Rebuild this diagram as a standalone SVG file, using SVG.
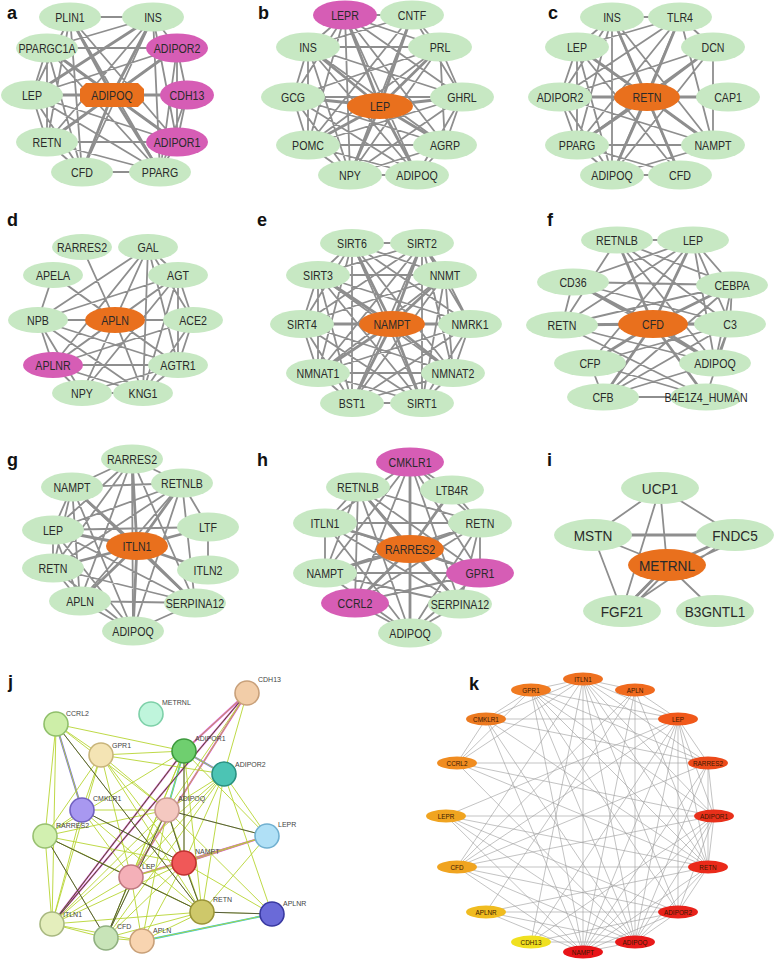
<svg xmlns="http://www.w3.org/2000/svg" width="777" height="960" viewBox="0 0 777 960">
<style>
.bg{fill:#fff}
.lt{font-family:"Liberation Sans",Arial,sans-serif;font-weight:bold;font-size:18px;fill:#111}
.ed{fill:none;stroke:#8e8e8e;stroke-width:1.8;stroke-linecap:round}
.eh{fill:none;stroke:#8e8e8e;stroke-width:2.8;stroke-linecap:round}
.nd ellipse{fill:#c7e8c3}
.nd.m ellipse{fill:#d65db5}
.nd.o ellipse,.nd.o polygon{fill:#e9701d}
.nd text{font-family:"Liberation Sans",Arial,sans-serif;font-size:12.5px;fill:#2a2a2a;text-anchor:middle;transform:scale(0.85,1)}
.big text{font-size:15.5px;transform:scale(0.88,1)}
.jg{fill:none;stroke:#b7d532;stroke-width:0.9}
.jd{fill:none;stroke:#3a3a3a;stroke-width:0.8}
.jm{fill:none;stroke:#e03ce0;stroke-width:1.8}
.jb{fill:none;stroke:#7b6ff0;stroke-width:2}
.jc{fill:none;stroke:#30c8e8;stroke-width:1.8}
.jn circle{stroke-width:1.6}
.jn text{font-family:"Liberation Sans",Arial,sans-serif;font-size:7px;fill:#444}
.kg{fill:none;stroke:#9a9a9a;stroke-width:0.6}
.kn text{font-family:"Liberation Sans",Arial,sans-serif;font-size:7.5px;fill:#3a1800;text-anchor:middle;transform:scale(0.85,1)}
</style>
<rect class="bg" width="777" height="960"/>

<g id="connectors">
<!-- a -->
<path class="ed" d="M70 17L153 17M70 17L32 95M70 17L47 142M70 17L82 172M70 17L160 172M70 17L177 142M153 17L47 48M153 17L177 48M153 17L47 142M153 17L82 172M153 17L160 172M153 17L177 142M47 48L177 48M47 48L32 95M47 48L47 142M47 48L82 172M47 48L160 172M47 48L177 142M177 48L177 142M177 48L160 172M177 48L32 95M177 48L47 142M177 48L187 95M32 95L47 142M32 95L82 172M32 95L160 172M32 95L177 142M187 95L177 142M187 95L160 172M47 142L177 142M47 142L82 172M47 142L160 172M177 142L160 172M82 172L160 172"/>
<path class="eh" d="M112 95L70 17M112 95L153 17M112 95L47 48M112 95L177 48M112 95L32 95M112 95L187 95M112 95L47 142M112 95L177 142M112 95L82 172M112 95L160 172M153 17L32 95"/>
<!-- b -->
<path class="ed" d="M345 15L412 15M345 15L308 47M345 15L440 47M345 15L293 97M345 15L462 97M345 15L308 145M345 15L445 145M345 15L350 175M345 15L417 175M412 15L308 47M412 15L440 47M412 15L308 145M412 15L350 175M412 15L462 97M308 47L440 47M308 47L293 97M308 47L462 97M308 47L308 145M308 47L445 145M308 47L350 175M308 47L417 175M440 47L293 97M440 47L462 97M440 47L308 145M440 47L350 175M440 47L445 145M293 97L462 97M293 97L308 145M293 97L350 175M293 97L445 145M293 97L417 175M462 97L308 145M462 97L445 145M462 97L350 175M462 97L417 175M308 145L445 145M308 145L350 175M308 145L417 175M445 145L350 175M445 145L417 175M350 175L417 175"/>
<path class="eh" d="M380 106L345 15M380 106L412 15M380 106L308 47M380 106L440 47M380 106L293 97M380 106L462 97M380 106L308 145M380 106L445 145M380 106L350 175M380 106L417 175"/>
<!-- c -->
<path class="ed" d="M612 17L680 17M612 17L577 47M612 17L560 97M612 17L577 145M612 17L612 175M612 17L713 145M612 17L680 175M680 17L577 47M680 17L577 145M680 17L612 175M680 17L713 145M680 17L713 47M680 17L560 97M577 47L560 97M577 47L577 145M577 47L612 175M577 47L713 145M577 47L680 175M560 97L577 145M560 97L612 175M560 97L713 145M560 97L713 47M577 145L612 175M577 145L713 145M577 145L680 175M612 175L680 175M612 175L713 145M713 47L713 145M713 47L612 175M713 47L577 145"/>
<path class="eh" d="M647 97L612 17M647 97L680 17M647 97L577 47M647 97L713 47M647 97L560 97M647 97L728 97M647 97L577 145M647 97L713 145M647 97L612 175M647 97L680 175"/>
<!-- d -->
<path class="ed" d="M115 320L82 247M115 320L148 247M115 320L53 275M115 320L178 275M115 320L38 320M115 320L193 320M115 320L53 365M115 320L178 365M115 320L82 393M115 320L143 393M148 247L38 320M148 247L53 365M148 247L82 393M148 247L178 275M148 247L193 320M148 247L178 365M148 247L143 393M53 275L38 320M53 275L178 365M178 275L38 320M178 275L53 365M178 275L82 393M178 275L178 365M178 275L143 393M178 275L193 320M38 320L53 365M38 320L178 365M38 320L82 393M38 320L143 393M193 320L53 365M193 320L178 365M193 320L143 393M53 365L178 365M53 365L82 393M53 365L143 393M178 365L82 393M178 365L143 393M82 393L143 393"/>
<!-- e -->
<path class="ed" d="M352 243L422 243M352 243L318 275M352 243L445 275M352 243L302 324M352 243L470 324M352 243L318 373M352 243L453 373M352 243L352 403M352 243L422 403M422 243L318 275M422 243L445 275M422 243L302 324M422 243L470 324M422 243L318 373M422 243L453 373M422 243L352 403M422 243L422 403M318 275L445 275M318 275L302 324M318 275L470 324M318 275L318 373M318 275L453 373M318 275L352 403M318 275L422 403M445 275L302 324M445 275L470 324M445 275L318 373M445 275L453 373M445 275L352 403M445 275L422 403M302 324L470 324M302 324L318 373M302 324L453 373M302 324L352 403M302 324L422 403M470 324L318 373M470 324L453 373M470 324L352 403M470 324L422 403M318 373L453 373M318 373L352 403M318 373L422 403M453 373L352 403M453 373L422 403M352 403L422 403"/>
<path class="eh" d="M392 324L352 243M392 324L422 243M392 324L318 275M392 324L445 275M392 324L302 324M392 324L470 324M392 324L318 373M392 324L453 373M392 324L352 403M392 324L422 403"/>
<!-- f -->
<path class="ed" d="M617 240L693 240M617 240L562 325M617 240L715 363M617 240L732 285M617 240L730 324M693 240L573 282M693 240L732 285M693 240L562 325M693 240L730 324M693 240L715 363M693 240L590 363M573 282L732 285M573 282L562 325M573 282L715 363M573 282L730 324M732 285L562 325M732 285L715 363M732 285L730 324M562 325L730 324M562 325L715 363M562 325L706 397M730 324L590 363M730 324L603 397M730 324L715 363M730 324L706 397M590 363L603 397M590 363L706 397M603 397L706 397M603 397L715 363M732 285L603 397"/>
<path class="eh" d="M653 324L617 240M653 324L693 240M653 324L573 282M653 324L732 285M653 324L562 325M653 324L730 324M653 324L590 363M653 324L715 363M653 324L603 397M653 324L706 397"/>
<!-- g -->
<path class="ed" d="M132 459L72 487M132 459L182 483M132 459L53 530M132 459L53 568M132 459L80 601M132 459L133 631M132 459L195 603M72 487L182 483M72 487L53 530M72 487L53 568M72 487L80 601M72 487L133 631M72 487L195 603M182 483L53 530M182 483L53 568M182 483L80 601M182 483L133 631M182 483L208 527M182 483L195 603M53 530L53 568M53 530L208 527M53 530L80 601M53 530L133 631M53 530L195 603M208 527L208 570M53 568L80 601M53 568L133 631M53 568L195 603M80 601L133 631M80 601L195 603M195 603L133 631"/>
<path class="eh" d="M137 546L132 459M137 546L72 487M137 546L182 483M137 546L53 530M137 546L208 527M137 546L53 568M137 546L208 570M137 546L80 601M137 546L195 603M137 546L133 631"/>
<!-- h -->
<path class="ed" d="M410 462L452 490M410 462L325 523M410 462L480 523M410 462L325 573M410 462L480 573M410 462L355 603M410 462L410 633M410 462L460 604M358 487L325 523M358 487L480 523M358 487L325 573M358 487L480 573M358 487L410 633M358 487L460 604M358 487L355 603M452 490L480 523M325 523L480 523M325 523L325 573M325 523L480 573M325 523L410 633M325 523L460 604M480 523L325 573M480 523L480 573M480 523L355 603M480 523L410 633M480 523L460 604M325 573L480 573M325 573L410 633M325 573L460 604M480 573L355 603M480 573L410 633M355 603L410 633M460 604L410 633"/>
<path class="eh" d="M410 549L410 462M410 549L358 487M410 549L452 490M410 549L325 523M410 549L480 523M410 549L325 573M410 549L480 573M410 549L355 603M410 549L460 604M410 549L410 633"/>
<!-- i -->
<path class="ed" d="M660 488L593 535M660 488L735 535M660 488L667 565M660 488L622 611M593 535L667 565M593 535L622 611M667 565L715 611M735 535L622 611M737 541L669 571M664 568L619 614M670 568L625 614"/>
<path class="eh" d="M593 535L735 535M735 535L667 565M667 565L622 611"/>
<!-- j -->
<path class="jm" d="M247 693L52 924M247 693L131 877M184 751L52 924M267 836L184 863M267 836L131 877M184 751L247 693"/>
<path class="jb" d="M56 724L82 810M184 751L224 774"/>
<path class="jc" d="M272 914L142 941M184 751L167 810"/>
<path class="jg" d="M56 724L101 755M56 724L82 810M56 724L45 836M56 724L184 751M56 724L167 810M56 724L52 924M56 724L202 912M101 755L82 810M101 755L45 836M101 755L184 751M101 755L167 810M101 755L184 863M101 755L202 912M101 755L131 877M101 755L224 774M82 810L45 836M82 810L167 810M82 810L131 877M82 810L202 912M82 810L52 924M82 810L184 863M45 836L167 810M45 836L131 877M45 836L202 912M45 836L184 863M45 836L52 924M45 836L106 938M45 836L184 751M184 751L224 774M184 751L167 810M184 751L247 693M184 751L131 877M184 751L184 863M184 751L202 912M184 751L52 924M184 751L106 938M184 751L267 836M224 774L167 810M224 774L247 693M224 774L131 877M224 774L184 863M224 774L202 912M224 774L267 836M224 774L52 924M224 774L272 914M224 774L106 938M247 693L167 810M247 693L131 877M247 693L52 924M167 810L131 877M167 810L184 863M167 810L202 912M167 810L267 836M167 810L52 924M167 810L106 938M167 810L142 941M267 836L131 877M267 836L184 863M267 836L202 912M184 863L131 877M184 863L202 912M184 863L52 924M184 863L106 938M184 863L142 941M184 863L272 914M131 877L202 912M131 877L52 924M131 877L106 938M131 877L142 941M202 912L52 924M202 912L106 938M202 912L142 941M202 912L272 914M272 914L142 941M52 924L106 938M52 924L142 941M106 938L142 941M101 755L52 924M167 810L272 914"/>
<path class="jd" d="M56 724L202 912M82 810L184 863M45 836L202 912M167 810L184 863M167 810L267 836M184 863L202 912M184 751L52 924M45 836L106 938M131 877L106 938M167 810L106 938M202 912L272 914M184 751L184 863M247 693L52 924"/>
<!-- k -->
<path class="kg" d="M457 763L531 690M457 763L486 719M457 763L708 763M457 763L714 816M457 763L635 942M457 763L583 679M457 763L708 867M531 690L486 719M531 690L708 763M531 690L714 816M531 690L635 942M531 690L583 952M531 690L708 867M531 690L678 719M531 690L678 912M486 719L708 763M486 719L635 942M486 719L678 719M486 719L708 867M486 719L583 679M486 719L583 952M708 763L635 942M708 763L678 719M708 763L708 867M708 763L583 952M708 763L583 679M708 763L457 867M708 763L714 816M714 816L678 912M714 816L635 942M714 816L531 942M714 816L678 719M714 816L583 952M714 816L708 867M714 816L583 679M714 816L457 867M714 816L446 816M678 912L635 942M678 912L531 942M678 912L678 719M678 912L583 952M678 912L708 867M678 912L446 816M678 912L583 679M678 912L486 912M678 912L457 867M531 942L635 942M531 942L678 719M531 942L583 679M635 942L678 719M635 942L583 952M635 942L708 867M635 942L446 816M635 942L583 679M635 942L457 867M635 942L635 690M446 816L678 719M446 816L583 952M446 816L708 867M583 952L678 719M583 952L708 867M583 952L583 679M583 952L457 867M583 952L635 690M583 952L486 912M678 719L708 867M678 719L583 679M678 719L457 867M678 719L635 690M708 867L583 679M708 867L457 867M708 867L635 690M708 867L486 912M486 912L635 690M583 679L457 867M583 679L635 690M457 867L635 690M531 690L583 679M635 942L486 912"/>
</g>

<g id="labels">
<text class="lt" x="7" y="19">a</text>
<text class="lt" x="258" y="19">b</text>
<text class="lt" x="548" y="19">c</text>
<text class="lt" x="7" y="226">d</text>
<text class="lt" x="257" y="226">e</text>
<text class="lt" x="547" y="226">f</text>
<text class="lt" x="7" y="466">g</text>
<text class="lt" x="257" y="466">h</text>
<text class="lt" x="547" y="466">i</text>
<text class="lt" x="8" y="688">j</text>
<text class="lt" x="469" y="690">k</text>
</g>

<!-- panel a -->
<g id="a-plin1" class="nd" transform="translate(70,17)"><ellipse rx="31" ry="14.5"/><text y="4.5">PLIN1</text></g>
<g id="a-ins" class="nd" transform="translate(153,17)"><ellipse rx="31" ry="14.5"/><text y="4.5">INS</text></g>
<g id="a-ppargc1a" class="nd" transform="translate(47,48)"><ellipse rx="31" ry="14.5"/><text y="4.5">PPARGC1A</text></g>
<g id="a-adipor2" class="nd m" transform="translate(177,48)"><ellipse rx="31" ry="14.5"/><text y="4.5">ADIPOR2</text></g>
<g id="a-lep" class="nd" transform="translate(32,95)"><ellipse rx="31" ry="14.5"/><text y="4.5">LEP</text></g>
<g id="a-adipoq" class="nd o" transform="translate(112,95)"><polygon points="-26,-12 26,-12 32,-6 32,6 26,12 -26,12 -32,6 -32,-6"/><text y="4.5">ADIPOQ</text></g>
<g id="a-cdh13" class="nd m" transform="translate(187,95)"><ellipse rx="27" ry="14.5"/><text y="4.5">CDH13</text></g>
<g id="a-retn" class="nd" transform="translate(47,142)"><ellipse rx="31" ry="14.5"/><text y="4.5">RETN</text></g>
<g id="a-adipor1" class="nd m" transform="translate(177,142)"><ellipse rx="31" ry="14.5"/><text y="4.5">ADIPOR1</text></g>
<g id="a-cfd" class="nd" transform="translate(82,172)"><ellipse rx="31" ry="14.5"/><text y="4.5">CFD</text></g>
<g id="a-pparg" class="nd" transform="translate(160,172)"><ellipse rx="31" ry="14.5"/><text y="4.5">PPARG</text></g>

<!-- panel b -->
<g id="b-lepr" class="nd m" transform="translate(345,15)"><ellipse rx="32" ry="14.5"/><text y="4.5">LEPR</text></g>
<g id="b-cntf" class="nd" transform="translate(412,15)"><ellipse rx="32" ry="14.5"/><text y="4.5">CNTF</text></g>
<g id="b-ins" class="nd" transform="translate(308,47)"><ellipse rx="32" ry="14.5"/><text y="4.5">INS</text></g>
<g id="b-prl" class="nd" transform="translate(440,47)"><ellipse rx="32" ry="14.5"/><text y="4.5">PRL</text></g>
<g id="b-gcg" class="nd" transform="translate(293,97)"><ellipse rx="32" ry="14.5"/><text y="4.5">GCG</text></g>
<g id="b-lep" class="nd o" transform="translate(380,106)"><ellipse rx="33" ry="13"/><text y="4.5">LEP</text></g>
<g id="b-ghrl" class="nd" transform="translate(462,97)"><ellipse rx="32" ry="14.5"/><text y="4.5">GHRL</text></g>
<g id="b-pomc" class="nd" transform="translate(308,145)"><ellipse rx="32" ry="14.5"/><text y="4.5">POMC</text></g>
<g id="b-agrp" class="nd" transform="translate(445,145)"><ellipse rx="32" ry="14.5"/><text y="4.5">AGRP</text></g>
<g id="b-npy" class="nd" transform="translate(350,175)"><ellipse rx="32" ry="14.5"/><text y="4.5">NPY</text></g>
<g id="b-adipoq" class="nd" transform="translate(417,175)"><ellipse rx="32" ry="14.5"/><text y="4.5">ADIPOQ</text></g>

<!-- panel c -->
<g id="c-ins" class="nd" transform="translate(612,17)"><ellipse rx="32" ry="14.5"/><text y="4.5">INS</text></g>
<g id="c-tlr4" class="nd" transform="translate(680,17)"><ellipse rx="32" ry="14.5"/><text y="4.5">TLR4</text></g>
<g id="c-lep" class="nd" transform="translate(577,47)"><ellipse rx="32" ry="14.5"/><text y="4.5">LEP</text></g>
<g id="c-dcn" class="nd" transform="translate(713,47)"><ellipse rx="32" ry="14.5"/><text y="4.5">DCN</text></g>
<g id="c-adipor2" class="nd" transform="translate(560,97)"><ellipse rx="32" ry="14.5"/><text y="4.5">ADIPOR2</text></g>
<g id="c-retn" class="nd o" transform="translate(647,97)"><ellipse rx="33" ry="14"/><text y="4.5">RETN</text></g>
<g id="c-cap1" class="nd" transform="translate(728,97)"><ellipse rx="32" ry="14.5"/><text y="4.5">CAP1</text></g>
<g id="c-pparg" class="nd" transform="translate(577,145)"><ellipse rx="32" ry="14.5"/><text y="4.5">PPARG</text></g>
<g id="c-nampt" class="nd" transform="translate(713,145)"><ellipse rx="32" ry="14.5"/><text y="4.5">NAMPT</text></g>
<g id="c-adipoq" class="nd" transform="translate(612,175)"><ellipse rx="32" ry="14.5"/><text y="4.5">ADIPOQ</text></g>
<g id="c-cfd" class="nd" transform="translate(680,175)"><ellipse rx="32" ry="14.5"/><text y="4.5">CFD</text></g>

<!-- panel d -->
<g id="d-rarres2" class="nd" transform="translate(82,247)"><ellipse rx="30" ry="13"/><text y="4.5">RARRES2</text></g>
<g id="d-gal" class="nd" transform="translate(148,247)"><ellipse rx="30" ry="13"/><text y="4.5">GAL</text></g>
<g id="d-apela" class="nd" transform="translate(53,275)"><ellipse rx="30" ry="13"/><text y="4.5">APELA</text></g>
<g id="d-agt" class="nd" transform="translate(178,275)"><ellipse rx="30" ry="13"/><text y="4.5">AGT</text></g>
<g id="d-npb" class="nd" transform="translate(38,320)"><ellipse rx="30" ry="13"/><text y="4.5">NPB</text></g>
<g id="d-apln" class="nd o" transform="translate(115,320)"><ellipse rx="30" ry="13"/><text y="4.5">APLN</text></g>
<g id="d-ace2" class="nd" transform="translate(193,320)"><ellipse rx="30" ry="13"/><text y="4.5">ACE2</text></g>
<g id="d-aplnr" class="nd m" transform="translate(53,365)"><ellipse rx="30" ry="13"/><text y="4.5">APLNR</text></g>
<g id="d-agtr1" class="nd" transform="translate(178,365)"><ellipse rx="30" ry="13"/><text y="4.5">AGTR1</text></g>
<g id="d-npy" class="nd" transform="translate(82,393)"><ellipse rx="30" ry="13"/><text y="4.5">NPY</text></g>
<g id="d-kng1" class="nd" transform="translate(143,393)"><ellipse rx="30" ry="13"/><text y="4.5">KNG1</text></g>

<!-- panel e -->
<g id="e-sirt6" class="nd" transform="translate(352,243)"><ellipse rx="32" ry="14"/><text y="4.5">SIRT6</text></g>
<g id="e-sirt2" class="nd" transform="translate(422,243)"><ellipse rx="32" ry="14"/><text y="4.5">SIRT2</text></g>
<g id="e-sirt3" class="nd" transform="translate(318,275)"><ellipse rx="32" ry="14"/><text y="4.5">SIRT3</text></g>
<g id="e-nnmt" class="nd" transform="translate(445,275)"><ellipse rx="32" ry="14"/><text y="4.5">NNMT</text></g>
<g id="e-sirt4" class="nd" transform="translate(302,324)"><ellipse rx="32" ry="14"/><text y="4.5">SIRT4</text></g>
<g id="e-nampt" class="nd o" transform="translate(392,324)"><ellipse rx="33" ry="13"/><text y="4.5">NAMPT</text></g>
<g id="e-nmrk1" class="nd" transform="translate(470,324)"><ellipse rx="32" ry="14"/><text y="4.5">NMRK1</text></g>
<g id="e-nmnat1" class="nd" transform="translate(318,373)"><ellipse rx="32" ry="14"/><text y="4.5">NMNAT1</text></g>
<g id="e-nmnat2" class="nd" transform="translate(453,373)"><ellipse rx="32" ry="14"/><text y="4.5">NMNAT2</text></g>
<g id="e-bst1" class="nd" transform="translate(352,403)"><ellipse rx="32" ry="14"/><text y="4.5">BST1</text></g>
<g id="e-sirt1" class="nd" transform="translate(422,403)"><ellipse rx="32" ry="14"/><text y="4.5">SIRT1</text></g>

<!-- panel f -->
<g id="f-retnlb" class="nd" transform="translate(617,240)"><ellipse rx="36" ry="13.5"/><text y="4.5">RETNLB</text></g>
<g id="f-lep" class="nd" transform="translate(693,240)"><ellipse rx="36" ry="13.5"/><text y="4.5">LEP</text></g>
<g id="f-cd36" class="nd" transform="translate(573,282)"><ellipse rx="36" ry="13.5"/><text y="4.5">CD36</text></g>
<g id="f-cebpa" class="nd" transform="translate(732,285)"><ellipse rx="36" ry="13.5"/><text y="4.5">CEBPA</text></g>
<g id="f-retn" class="nd" transform="translate(562,325)"><ellipse rx="36" ry="13.5"/><text y="4.5">RETN</text></g>
<g id="f-cfd" class="nd o" transform="translate(653,324)"><ellipse rx="35" ry="14"/><text y="4.5">CFD</text></g>
<g id="f-c3" class="nd" transform="translate(730,324)"><ellipse rx="36" ry="13.5"/><text y="4.5">C3</text></g>
<g id="f-cfp" class="nd" transform="translate(590,363)"><ellipse rx="36" ry="13.5"/><text y="4.5">CFP</text></g>
<g id="f-adipoq" class="nd" transform="translate(715,363)"><ellipse rx="36" ry="13.5"/><text y="4.5">ADIPOQ</text></g>
<g id="f-cfb" class="nd" transform="translate(603,397)"><ellipse rx="36" ry="13.5"/><text y="4.5">CFB</text></g>
<g id="f-b4e1z4" class="nd" transform="translate(706,397)"><ellipse rx="36" ry="13.5"/><text y="4.5">B4E1Z4_HUMAN</text></g>

<!-- panel g -->
<g id="g-rarres2" class="nd" transform="translate(132,459)"><ellipse rx="31" ry="14.5"/><text y="4.5">RARRES2</text></g>
<g id="g-nampt" class="nd" transform="translate(72,487)"><ellipse rx="31" ry="14.5"/><text y="4.5">NAMPT</text></g>
<g id="g-retnlb" class="nd" transform="translate(182,483)"><ellipse rx="31" ry="14.5"/><text y="4.5">RETNLB</text></g>
<g id="g-lep" class="nd" transform="translate(53,530)"><ellipse rx="31" ry="14.5"/><text y="4.5">LEP</text></g>
<g id="g-ltf" class="nd" transform="translate(208,527)"><ellipse rx="31" ry="14.5"/><text y="4.5">LTF</text></g>
<g id="g-itln1" class="nd o" transform="translate(137,546)"><ellipse rx="31" ry="14"/><text y="4.5">ITLN1</text></g>
<g id="g-retn" class="nd" transform="translate(53,568)"><ellipse rx="31" ry="14.5"/><text y="4.5">RETN</text></g>
<g id="g-itln2" class="nd" transform="translate(208,570)"><ellipse rx="31" ry="14.5"/><text y="4.5">ITLN2</text></g>
<g id="g-apln" class="nd" transform="translate(80,601)"><ellipse rx="31" ry="14.5"/><text y="4.5">APLN</text></g>
<g id="g-serpina12" class="nd" transform="translate(195,603)"><ellipse rx="31" ry="14.5"/><text y="4.5">SERPINA12</text></g>
<g id="g-adipoq" class="nd" transform="translate(133,631)"><ellipse rx="31" ry="14.5"/><text y="4.5">ADIPOQ</text></g>

<!-- panel h -->
<g id="h-cmklr1" class="nd m" transform="translate(410,462)"><ellipse rx="34" ry="14.5"/><text y="4.5">CMKLR1</text></g>
<g id="h-retnlb" class="nd" transform="translate(358,487)"><ellipse rx="32" ry="14.5"/><text y="4.5">RETNLB</text></g>
<g id="h-ltb4r" class="nd" transform="translate(452,490)"><ellipse rx="32" ry="14.5"/><text y="4.5">LTB4R</text></g>
<g id="h-itln1" class="nd" transform="translate(325,523)"><ellipse rx="32" ry="14.5"/><text y="4.5">ITLN1</text></g>
<g id="h-retn" class="nd" transform="translate(480,523)"><ellipse rx="32" ry="14.5"/><text y="4.5">RETN</text></g>
<g id="h-rarres2" class="nd o" transform="translate(410,549)"><ellipse rx="34" ry="14"/><text y="4.5">RARRES2</text></g>
<g id="h-nampt" class="nd" transform="translate(325,573)"><ellipse rx="32" ry="14.5"/><text y="4.5">NAMPT</text></g>
<g id="h-gpr1" class="nd m" transform="translate(480,573)"><ellipse rx="34" ry="14.5"/><text y="4.5">GPR1</text></g>
<g id="h-ccrl2" class="nd m" transform="translate(355,603)"><ellipse rx="34" ry="14.5"/><text y="4.5">CCRL2</text></g>
<g id="h-serpina12" class="nd" transform="translate(460,604)"><ellipse rx="32" ry="14.5"/><text y="4.5">SERPINA12</text></g>
<g id="h-adipoq" class="nd" transform="translate(410,633)"><ellipse rx="32" ry="14.5"/><text y="4.5">ADIPOQ</text></g>

<!-- panel i -->
<g id="i-ucp1" class="nd big" transform="translate(660,488)"><ellipse rx="39" ry="16"/><text y="5.5">UCP1</text></g>
<g id="i-mstn" class="nd big" transform="translate(593,535)"><ellipse rx="39" ry="16"/><text y="5.5">MSTN</text></g>
<g id="i-fndc5" class="nd big" transform="translate(735,535)"><ellipse rx="39" ry="16"/><text y="5.5">FNDC5</text></g>
<g id="i-metrnl" class="nd big o" transform="translate(667,565)"><ellipse rx="39" ry="16"/><text y="5.5">METRNL</text></g>
<g id="i-fgf21" class="nd big" transform="translate(622,611)"><ellipse rx="39" ry="16"/><text y="5.5">FGF21</text></g>
<g id="i-b3gntl1" class="nd big" transform="translate(715,611)"><ellipse rx="39" ry="16"/><text y="5.5">B3GNTL1</text></g>

<!-- panel j -->
<g id="j-cdh13" class="jn"><circle cx="247" cy="693" r="12" fill="#f2cda8" stroke="#c8a07a"/><text x="258" y="682">CDH13</text></g>
<g id="j-metrnl" class="jn"><circle cx="151" cy="714" r="12" fill="#bff5dc" stroke="#7dd0a8"/><text x="162" y="705">METRNL</text></g>
<g id="j-ccrl2" class="jn"><circle cx="56" cy="724" r="12" fill="#cdeea8" stroke="#8fbf6a"/><text x="66" y="716">CCRL2</text></g>
<g id="j-gpr1" class="jn"><circle cx="101" cy="755" r="12" fill="#f4e4b4" stroke="#c8b47a"/><text x="112" y="748">GPR1</text></g>
<g id="j-adipor1" class="jn"><circle cx="184" cy="751" r="12" fill="#6fcf6f" stroke="#3d9a3d"/><text x="195" y="741">ADIPOR1</text></g>
<g id="j-adipor2" class="jn"><circle cx="224" cy="774" r="12" fill="#4cc4b4" stroke="#2a9080"/><text x="235" y="767">ADIPOR2</text></g>
<g id="j-cmklr1" class="jn"><circle cx="82" cy="810" r="12" fill="#a898f0" stroke="#7060c0"/><text x="93" y="801">CMKLR1</text></g>
<g id="j-adipoq" class="jn"><circle cx="167" cy="810" r="12" fill="#f4c8c0" stroke="#c89890"/><text x="178" y="801">ADIPOQ</text></g>
<g id="j-lepr" class="jn"><circle cx="267" cy="836" r="12" fill="#b0e0f6" stroke="#70b0d0"/><text x="278" y="827">LEPR</text></g>
<g id="j-rarres2" class="jn"><circle cx="45" cy="836" r="12" fill="#d2f0b0" stroke="#98c070"/><text x="56" y="828">RARRES2</text></g>
<g id="j-nampt" class="jn"><circle cx="184" cy="863" r="12" fill="#f05858" stroke="#c03030"/><text x="195" y="854">NAMPT</text></g>
<g id="j-lep" class="jn"><circle cx="131" cy="877" r="12" fill="#f4b0b8" stroke="#c07880"/><text x="142" y="869">LEP</text></g>
<g id="j-retn" class="jn"><circle cx="202" cy="912" r="12" fill="#cec86a" stroke="#9a9438"/><text x="213" y="902">RETN</text></g>
<g id="j-aplnr" class="jn"><circle cx="272" cy="914" r="12" fill="#6a6ad8" stroke="#3838a0"/><text x="283" y="906">APLNR</text></g>
<g id="j-itln1" class="jn"><circle cx="52" cy="924" r="12" fill="#e4eebc" stroke="#a8b880"/><text x="63" y="917">ITLN1</text></g>
<g id="j-cfd" class="jn"><circle cx="106" cy="938" r="12" fill="#c8e4b8" stroke="#90b080"/><text x="117" y="929">CFD</text></g>
<g id="j-apln" class="jn"><circle cx="142" cy="941" r="12" fill="#f8d4b0" stroke="#c8a078"/><text x="153" y="933">APLN</text></g>

<!-- panel k -->
<g id="k-itln1" class="kn" transform="translate(583,679)"><ellipse rx="20" ry="6.5" fill="#ee7020"/><text y="2.6">ITLN1</text></g>
<g id="k-gpr1" class="kn" transform="translate(531,690)"><ellipse rx="20" ry="6.5" fill="#f07a20"/><text y="2.6">GPR1</text></g>
<g id="k-apln" class="kn" transform="translate(635,690)"><ellipse rx="20" ry="6.5" fill="#f06a1e"/><text y="2.6">APLN</text></g>
<g id="k-cmklr1" class="kn" transform="translate(486,719)"><ellipse rx="20" ry="6.5" fill="#ec7a20"/><text y="2.6">CMKLR1</text></g>
<g id="k-lep" class="kn" transform="translate(678,719)"><ellipse rx="20" ry="6.5" fill="#f0581a"/><text y="2.6">LEP</text></g>
<g id="k-ccrl2" class="kn" transform="translate(457,763)"><ellipse rx="20" ry="6.5" fill="#f08c20"/><text y="2.6">CCRL2</text></g>
<g id="k-rarres2" class="kn" transform="translate(708,763)"><ellipse rx="20" ry="6.5" fill="#ec4a1a"/><text y="2.6">RARRES2</text></g>
<g id="k-lepr" class="kn" transform="translate(446,816)"><ellipse rx="20" ry="6.5" fill="#f0a420"/><text y="2.6">LEPR</text></g>
<g id="k-adipor1" class="kn" transform="translate(714,816)"><ellipse rx="20" ry="6.5" fill="#e8301a"/><text y="2.6">ADIPOR1</text></g>
<g id="k-cfd" class="kn" transform="translate(457,867)"><ellipse rx="20" ry="6.5" fill="#f0a420"/><text y="2.6">CFD</text></g>
<g id="k-retn" class="kn" transform="translate(708,867)"><ellipse rx="20" ry="6.5" fill="#ea2a1a"/><text y="2.6">RETN</text></g>
<g id="k-aplnr" class="kn" transform="translate(486,912)"><ellipse rx="20" ry="6.5" fill="#f0bc20"/><text y="2.6">APLNR</text></g>
<g id="k-adipor2" class="kn" transform="translate(678,912)"><ellipse rx="20" ry="6.5" fill="#e8221a"/><text y="2.6">ADIPOR2</text></g>
<g id="k-cdh13" class="kn" transform="translate(531,942)"><ellipse rx="20" ry="6.5" fill="#f0e020"/><text y="2.6">CDH13</text></g>
<g id="k-adipoq" class="kn" transform="translate(635,942)"><ellipse rx="20" ry="6.5" fill="#e81a1a"/><text y="2.6">ADIPOQ</text></g>
<g id="k-nampt" class="kn" transform="translate(583,952)"><ellipse rx="20" ry="6.5" fill="#e81418"/><text y="2.6">NAMPT</text></g>
</svg>
